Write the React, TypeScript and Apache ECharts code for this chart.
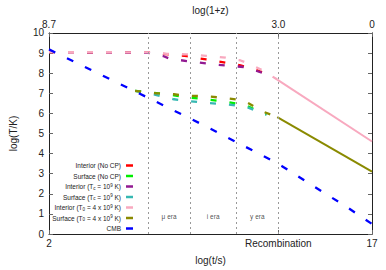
import React, { useEffect, useRef } from "react";
import * as echarts from "echarts";

// ---- data (log t/s, log T/K) ----
const interiorNoCP: [number, number][] = [[2, 9.05], [6.6, 9.02], [7.6, 8.93], [8.4, 8.84], [9.3, 8.68], [10.2, 8.52], [10.9, 8.38], [11.2, 8.3], [11.9, 8.05], [12.1, 7.95]];
const surfaceNoCP: [number, number][] = [[6.0, 7.12], [7.0, 7.0], [7.8, 6.9], [8.4, 6.8], [9.3, 6.7], [10.2, 6.58], [11.1, 6.42], [11.9, 6.02], [12.1, 5.95]];
const interiorTc: [number, number][] = [[2, 9.05], [6.6, 9.01], [7.3, 8.85], [7.6, 8.72], [8.4, 8.6], [9.3, 8.48], [10.2, 8.38], [11.1, 8.3], [11.9, 8.02], [12.1, 7.9]];
const surfaceTc: [number, number][] = [[6.0, 7.12], [6.95, 6.92], [7.8, 6.7], [8.4, 6.62], [9.3, 6.52], [10.2, 6.45], [11.1, 6.35], [11.9, 6.0], [12.1, 5.93]];
const interiorT0: [number, number][] = [[2, 9.05], [6.6, 9.03], [7.5, 8.96], [8.4, 8.93], [9.3, 8.86], [10.2, 8.77], [10.9, 8.63], [11.2, 8.5], [11.9, 8.15], [12.6, 7.68]];
const interiorT0Late: [number, number][] = [[12.6, 7.68], [17, 4.6]];
const surfaceT0: [number, number][] = [[6.0, 7.12], [6.95, 7.0], [7.8, 6.95], [8.4, 6.88], [9.3, 6.85], [10.2, 6.76], [10.9, 6.66], [11.2, 6.54], [11.9, 6.1], [12.6, 5.81]];
const surfaceT0Late: [number, number][] = [[12.6, 5.81], [17, 3.1]];
const cmb: [number, number][] = [[2, 9.18], [6.8, 6.67], [9.22, 5.39], [12.4, 3.63], [12.84, 3.36], [14.22, 2.42], [15.76, 1.39], [17, 0.5]];

const seriesNames = [
  "Interior (No CP)",
  "Surface (No CP)",
  "Interior (Tc = 10^9 K)",
  "Surface (Tc = 10^9 K)",
  "Interior (T0 = 4 x 10^9 K)",
  "Surface (T0 = 4 x 10^9 K)",
  "CMB",
];
const legendRich = [
  "Interior (No CP)",
  "Surface (No CP)",
  "Interior (T{sub|c} = 10{sup|9} K)",
  "Surface (T{sub|c} = 10{sup|9} K)",
  "Interior (T{sub|0} = 4 x 10{sup|9} K)",
  "Surface (T{sub|0} = 4 x 10{sup|9} K)",
  "CMB",
];
const seriesColors = ["#ff0000", "#00ee00", "#921a92", "#36b8b2", "#f8a9bf", "#8a8a00", "#0000ff"];

const eraBoundaries = [6.6, 8.55, 10.7, 12.65];
const eraLabels = ["\u03bc era", "i era", "y era"];
const eraLabelLevel = 0.85;

const bottomTickValues = [2, 12.65, 17];
const bottomTickLabels = ["2", "Recombination", "17"];
const topTickValues = [2, 12.65, 17];
const topTickLabels = ["8.7", "3.0", "0"];

const FONT = "'Liberation Sans', Arial, Helvetica, sans-serif";
const TXT = "#222";

function lookup(vals: number[], labels: string[]) {
  return (v: number) => {
    const i = vals.findIndex((t) => Math.abs(t - v) < 1e-6);
    return i >= 0 ? labels[i] : "";
  };
}

export default function App() {
  const ref = useRef<HTMLDivElement>(null);
  useEffect(() => {
    if (!ref.current) return;
    const chart = echarts.init(ref.current, null, { renderer: "svg" });
    const dashed = (name: string, data: [number, number][], color: string, dash: number[] = [6, 13], z = 2) => ({
      type: "line",
      name,
      data,
      color,
      showSymbol: false,
      symbol: "none",
      z,
      itemStyle: { color },
      lineStyle: { color, width: 2.3, type: dash, cap: "butt" },
      silent: true,
    });
    const solid = (name: string, data: [number, number][], color: string) => ({
      type: "line",
      name,
      data,
      color,
      showSymbol: false,
      symbol: "none",
      itemStyle: { color },
      lineStyle: { color, width: 2 },
      silent: true,
    });
    const rich = {
      sub: { fontSize: 4.5, fontFamily: FONT, color: TXT, verticalAlign: "bottom", lineHeight: 8 },
      sup: { fontSize: 4.5, fontFamily: FONT, color: TXT, verticalAlign: "top", lineHeight: 8 },
    };
    const option: any = {
      animation: false,
      backgroundColor: "#fff",
      textStyle: { fontFamily: FONT },
      grid: { left: 46, right: 14, top: 19, bottom: 32, containLabel: false },
      xAxis: [
        {
          type: "value",
          position: "bottom",
          min: 2,
          max: 17,
          name: "log(t/s)",
          nameLocation: "middle",
          nameGap: 21,
          nameTextStyle: { fontSize: 10, color: TXT, fontFamily: FONT },
          axisLine: { show: true, onZero: false, lineStyle: { color: TXT, width: 1 } },
          axisTick: { show: true, inside: true, length: 4, customValues: bottomTickValues, lineStyle: { color: "#666" } },
          axisLabel: { show: true, customValues: bottomTickValues, formatter: lookup(bottomTickValues, bottomTickLabels), fontSize: 10, color: TXT, margin: 4, fontFamily: FONT },
          splitLine: { show: false },
        },
        {
          type: "value",
          position: "top",
          min: 2,
          max: 17,
          name: "log(1+z)",
          nameLocation: "middle",
          nameGap: 12,
          nameTextStyle: { fontSize: 10, color: TXT, fontFamily: FONT },
          axisLine: { show: true, onZero: false, lineStyle: { color: TXT, width: 1 } },
          axisTick: { show: true, inside: true, length: 4, customValues: topTickValues, lineStyle: { color: "#666" } },
          axisLabel: { show: true, customValues: topTickValues, formatter: lookup(topTickValues, topTickLabels), fontSize: 10, color: TXT, margin: 3, fontFamily: FONT },
          splitLine: { show: false },
        },
      ],
      yAxis: [
        {
          type: "value",
          position: "left",
          min: 0,
          max: 10,
          interval: 1,
          name: "log(T/K)",
          nameLocation: "middle",
          nameGap: 31,
          nameTextStyle: { fontSize: 10, color: TXT, fontFamily: FONT },
          axisLine: { show: true, onZero: false, lineStyle: { color: TXT, width: 1 } },
          axisTick: { show: true, inside: true, length: 4, lineStyle: { color: "#666" } },
          axisLabel: { show: true, fontSize: 10, color: TXT, margin: 5, fontFamily: FONT },
          splitLine: { show: false },
        },
        {
          type: "value",
          position: "right",
          min: 0,
          max: 10,
          interval: 1,
          axisLine: { show: true, onZero: false, lineStyle: { color: TXT, width: 1 } },
          axisTick: { show: true, inside: true, length: 4, lineStyle: { color: "#666" } },
          axisLabel: { show: false },
          splitLine: { show: false },
        },
      ],
      legend: seriesNames.map((n, i) => ({
        data: [n],
        orient: "vertical",
        right: 386 - 133,
        top: 161.5 + i * 10.5,
        padding: 0,
        itemWidth: 7,
        itemHeight: 2.5,
        icon: "rect",
        align: "right",
        selectedMode: false,
        formatter: () => legendRich[i],
        textStyle: { fontSize: 6.5, color: TXT, fontFamily: FONT, lineHeight: 8, rich },
      })),
      series: [
        dashed(seriesNames[0], interiorNoCP, seriesColors[0]),
        dashed(seriesNames[1], surfaceNoCP, seriesColors[1]),
        dashed(seriesNames[2], interiorTc, seriesColors[2]),
        dashed(seriesNames[3], surfaceTc, seriesColors[3]),
        dashed(seriesNames[4], interiorT0, seriesColors[4]),
        solid(seriesNames[4], interiorT0Late, seriesColors[4]),
        dashed(seriesNames[5], surfaceT0, seriesColors[5]),
        solid(seriesNames[5], surfaceT0Late, seriesColors[5]),
        dashed(seriesNames[6], cmb, seriesColors[6], [7, 13], 3),
        {
          type: "scatter",
          name: "eras",
          silent: true,
          symbolSize: 1,
          itemStyle: { color: "rgba(0,0,0,0)" },
          data: eraLabels.map((l, i) => ({ name: l, value: [(eraBoundaries[i] + eraBoundaries[i + 1]) / 2, eraLabelLevel] })),
          label: { show: true, position: "inside", formatter: "{b}", fontSize: 6.5, color: TXT, fontFamily: FONT },
          markLine: {
            silent: true,
            symbol: ["none", "none"],
            label: { show: false },
            lineStyle: { color: "#999", type: [2, 3], width: 1 },
            data: eraBoundaries.map((x) => ({ xAxis: x })),
          },
        },
      ],
    };
    chart.setOption(option);
    return () => chart.dispose();
  }, []);
  return <div ref={ref} style={{ position: "absolute", left: 0, top: 0, width: 386, height: 270 }} />;
}
